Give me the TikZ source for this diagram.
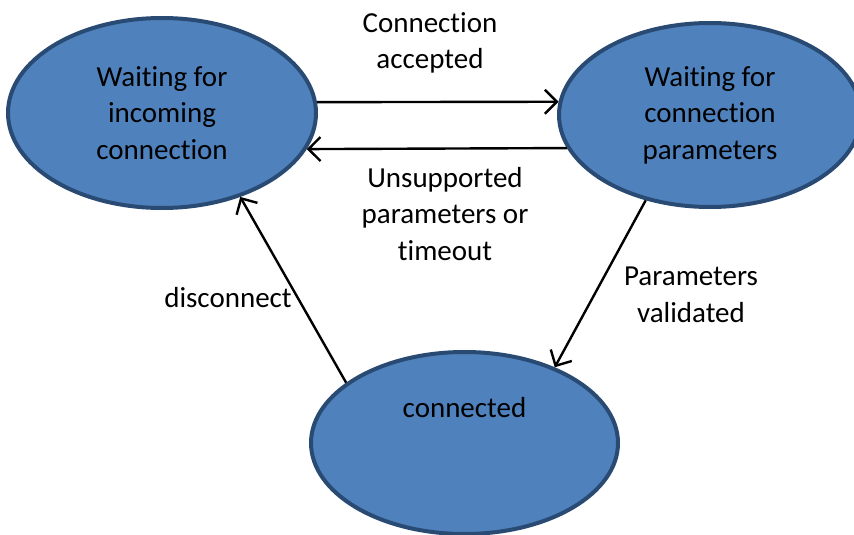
\documentclass[tikz,border=0pt]{standalone}
\usepackage{fontspec}
\setmainfont{Carlito}[RawFeature=-liga]
\usetikzlibrary{arrows.meta,shapes.geometric}
\definecolor{statefill}{HTML}{4F81BD}
\definecolor{stateline}{HTML}{294A72}

\begin{document}
\begin{tikzpicture}[x=1pt, y=-1pt,
    state/.style={ellipse, draw=stateline, fill=statefill, line width=4pt, inner sep=0pt, align=center},
    lbl/.style={align=center},
    trans/.style={-{Straight Barb[length=12pt, width=24pt, line width=2.4pt]}, line width=2.4pt},
    every node/.style={font=\fontsize{29}{36.5}\selectfont}]
    \useasboundingbox (0,0) rectangle (854,535);
    % states
    \node[state, minimum width=308pt, minimum height=190pt] (wait) at (162,113) {Waiting for\\incoming\\connection};
    \node[state, minimum width=302pt, minimum height=184pt] (param) at (710,115) {Waiting for\\connection\\parameters};
    \node[state, minimum width=307pt, minimum height=182pt,
          label={[lbl, yshift=35pt]center:connected}] (conn) at (464.5,443) {};
    % transitions
    \draw[trans] (wait.4) -- (param.175);
    \draw[trans] (param.193) -- (wait.-14);
    \draw[trans] (param.233) -- (conn.40);
    \draw[trans] (conn.153) -- (wait.-47.5);
    % labels
    \node[lbl] (lacc) at (430,43) {Connection\\accepted};
    \node[lbl] (lrej) at (445,214) {Unsupported\\parameters or\\timeout};
    \node[lbl] (ldis) at (228,298) {disconnect};
    \node[lbl] (lval) at (691,295) {Parameters\\validated};
\end{tikzpicture}
\end{document}
